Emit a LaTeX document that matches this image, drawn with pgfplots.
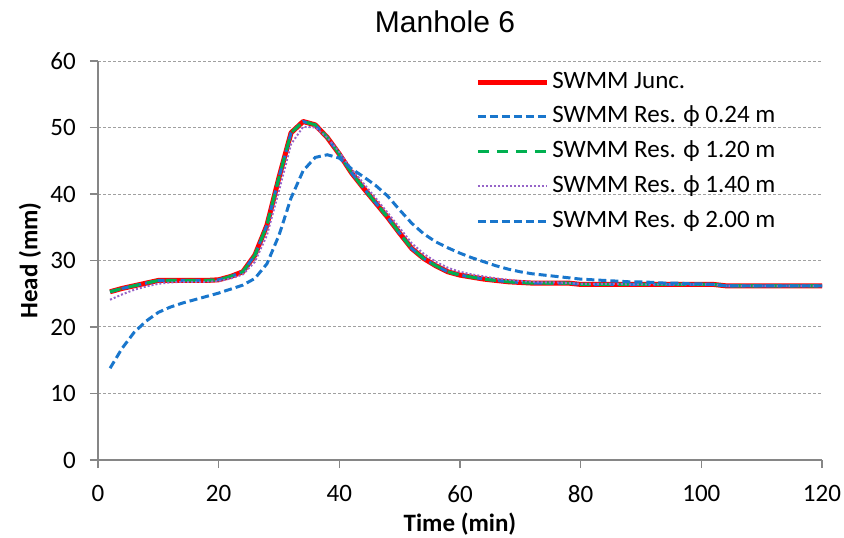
\documentclass[border=0pt]{standalone}
\usepackage{pgfplots}
\usepackage{pgfplotstable}
\pgfplotsset{compat=1.18}
\usepackage{fontspec}
\setmainfont{Carlito}
\newfontfamily\titlefont{Liberation Sans}
\definecolor{jred}{RGB}{255,0,0}
\definecolor{rblue}{RGB}{25,118,204}
\definecolor{rgreen}{RGB}{0,176,80}
\definecolor{rpurple}{RGB}{150,100,200}
\definecolor{axgray}{RGB}{134,134,134}
\definecolor{gridgray}{RGB}{160,160,160}

\pgfplotstableread{
t    junc  r024  r120  r140  r200
2    25.3  25.3  25.3  24.1  13.8
4    25.8  25.8  25.8  24.9  16.8
6    26.2  26.2  26.2  25.6  19.2
8    26.6  26.6  26.6  26.1  20.9
10   27.0  27.0  27.0  26.5  22.2
12   27.0  27.0  27.0  26.7  23.0
14   27.0  27.0  27.0  26.8  23.6
16   27.0  27.0  27.0  26.8  24.1
18   27.0  27.0  27.0  26.8  24.6
20   27.1  27.1  27.1  26.9  25.1
22   27.6  27.6  27.6  27.3  25.7
24   28.3  28.3  28.3  27.9  26.3
26   30.8  30.8  30.8  29.8  27.3
28   35.3  35.3  35.3  33.8  29.5
30   42.5  42.5  42.5  40.5  33.8
32   49.2  49.2  49.2  47.5  39.4
34   50.9  50.9  50.9  50.1  43.5
36   50.4  50.4  50.4  50.0  45.5
38   48.5  48.5  48.5  48.5  45.9
40   46.0  46.0  46.0  46.3  45.4
42   43.2  43.2  43.2  43.8  43.8
44   40.9  40.9  40.9  41.6  42.6
46   38.7  38.7  38.7  39.4  41.3
48   36.5  36.5  36.5  37.2  39.7
50   34.1  34.1  34.1  34.9  37.6
52   31.8  31.8  31.8  32.6  35.6
54   30.3  30.3  30.3  31.0  34.0
56   29.2  29.2  29.2  29.8  32.8
58   28.3  28.3  28.3  28.9  31.9
60   27.8  27.8  27.8  28.3  31.1
62   27.5  27.5  27.5  27.9  30.4
64   27.2  27.2  27.2  27.6  29.8
66   27.0  27.0  27.0  27.3  29.2
68   26.8  26.8  26.8  27.1  28.7
70   26.7  26.7  26.7  26.9  28.3
72   26.6  26.6  26.6  26.8  28.0
74   26.6  26.6  26.6  26.7  27.8
76   26.6  26.6  26.6  26.7  27.6
78   26.6  26.6  26.6  26.6  27.4
80   26.4  26.4  26.4  26.5  27.2
82   26.4  26.4  26.4  26.5  27.1
84   26.4  26.4  26.4  26.5  27.0
86   26.4  26.4  26.4  26.5  26.9
88   26.4  26.4  26.4  26.4  26.8
90   26.4  26.4  26.4  26.4  26.8
92   26.4  26.4  26.4  26.4  26.7
94   26.4  26.4  26.4  26.4  26.6
96   26.4  26.4  26.4  26.4  26.6
98   26.4  26.4  26.4  26.4  26.5
100  26.4  26.4  26.4  26.4  26.5
102  26.4  26.4  26.4  26.4  26.4
104  26.2  26.2  26.2  26.2  26.2
106  26.2  26.2  26.2  26.2  26.2
108  26.2  26.2  26.2  26.2  26.2
110  26.2  26.2  26.2  26.2  26.2
112  26.2  26.2  26.2  26.2  26.2
114  26.2  26.2  26.2  26.2  26.2
116  26.2  26.2  26.2  26.2  26.2
118  26.2  26.2  26.2  26.2  26.2
120  26.2  26.2  26.2  26.2  26.2
}\datatable

\begin{document}
\begin{tikzpicture}
\useasboundingbox (-98pt,-78pt) rectangle (746pt,460pt);
\begin{axis}[
  at={(0pt,0pt)}, anchor=south west,
  scale only axis, width=724pt, height=399pt,
  xmin=0, xmax=120, ymin=0, ymax=60,
  xtick={0,20,...,120}, ytick={0,10,...,60},
  axis x line*=bottom, axis y line*=left,
  axis line style={axgray, line width=1.5pt},
  tick style={axgray, line width=1.5pt},
  tick align=outside, major tick length=8pt,
  ymajorgrids,
  grid style={gridgray, line width=1pt, dash pattern=on 3pt off 2pt},
  /pgf/number format/assume math mode=true,
  ticklabel style={font=\fontsize{25}{30}\selectfont, inner sep=0pt},
  xticklabel style={anchor=north, yshift=-17pt},
  yticklabel style={anchor=east, xshift=-14pt},
  xlabel={\bfseries Time (min)},
  ylabel={\bfseries Head (mm)},
  label style={font=\fontsize{25}{30}\selectfont, inner sep=0pt},
  xlabel style={at={(axis description cs:0.5,0)}, anchor=north, yshift=-53pt},
  ylabel style={at={(axis description cs:-0.0939,0.5)}, anchor=center, rotate=0},
  legend style={draw=none, fill=none, inner sep=0pt,
    at={(axis description cs:0.5208,0.9774)}, anchor=north west,
    font=\fontsize{25}{30}\selectfont,
    nodes={inner sep=0pt, text height=18pt, text depth=6pt},
    row sep=10.7pt, column sep=3pt},
  legend cell align=left,
  legend image code/.code={\draw[#1] (0pt,0pt) -- (69pt,0pt);},
]
\addplot[jred, line width=5pt, line join=round] table[x=t, y=junc] {\datatable};
\addlegendentry{SWMM Junc.}
\addplot[rblue, line width=3pt, dash pattern=on 8pt off 4pt] table[x=t, y=r024] {\datatable};
\addlegendentry{SWMM Res. ϕ 0.24 m}
\addplot[rgreen, line width=3pt, dash pattern=on 11pt off 8pt] table[x=t, y=r120] {\datatable};
\addlegendentry{SWMM Res. ϕ 1.20 m}
\addplot[rpurple, line width=2pt, dash pattern=on 2pt off 2pt] table[x=t, y=r140] {\datatable};
\addlegendentry{SWMM Res. ϕ 1.40 m}
\addplot[rblue, line width=3pt, dash pattern=on 8pt off 4pt] table[x=t, y=r200] {\datatable};
\addlegendentry{SWMM Res. ϕ 2.00 m}
\end{axis}
\node[font=\titlefont\fontsize{30}{36}\selectfont, inner sep=0pt] at (347pt,438pt) {Manhole 6};
\end{tikzpicture}
\end{document}
